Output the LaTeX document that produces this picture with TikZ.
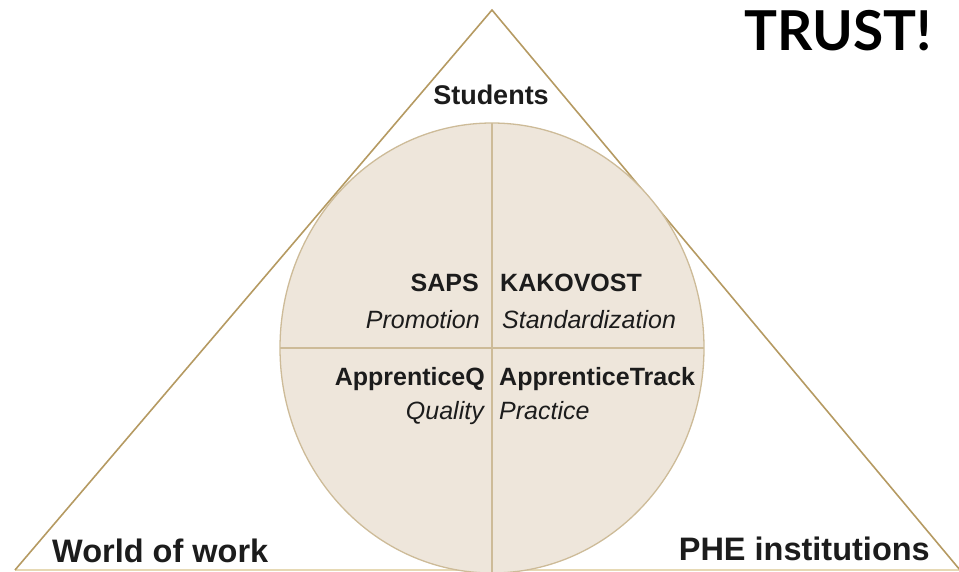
\documentclass[tikz,border=0pt]{standalone}
\usepackage{fontspec}
\setmainfont{Liberation Sans}
\newfontfamily\trustfont{Lato}
\usetikzlibrary{calc}

\definecolor{edgegold}{HTML}{B59A62}
\definecolor{basegold}{HTML}{E6D9B4}
\definecolor{discfill}{HTML}{EEE6DB}
\definecolor{discline}{HTML}{CDBB98}
\definecolor{ink}{HTML}{1C1C1C}

\begin{document}
\begin{tikzpicture}[x=1pt, y=-1pt,
    every node/.style={text=ink, inner sep=0pt},
    project/.style={font=\fontsize{25}{30}\selectfont\bfseries},
    role/.style={font=\fontsize{25}{30}\selectfont\itshape},
    corner/.style={font=\fontsize{32.5}{38}\selectfont\bfseries}]
    \useasboundingbox (0,0) rectangle (959,572);

    \coordinate (T) at (492,10);
    \coordinate (L) at (15,570);
    \coordinate (R) at (960,570);
    \coordinate (O) at (492,348);

    % triangle, then the disc with its cross on top
    \draw[basegold, line width=1.6pt] (L) -- (R);
    \draw[edgegold, line width=1.6pt] (L) -- (T) -- (R);
    \draw[discline, fill=discfill, line width=1.3pt] (O) ellipse [x radius=212, y radius=225];
    \draw[discline, line width=1.8pt] ($(O)+(0,-225)$) -- ($(O)+(0,225)$);
    \draw[discline, line width=1.8pt] ($(O)+(-212,0)$) -- ($(O)+(212,0)$);

    \node[anchor=base east, text=black, font=\fontsize{55}{60}\selectfont\trustfont\bfseries] (trust) at (932,51) {TRUST!};

    \node[anchor=base, font=\fontsize{27}{32}\selectfont\bfseries] (stud) at (491,105) {Students};
    \node[corner, anchor=base west] (wow) at (52,562) {World of work};
    \node[corner, anchor=base east] (phe) at (930,560) {PHE institutions};

    \node[project, anchor=base east] (saps) at (479,291) {SAPS};
    \node[role, anchor=base east] (promo) at (480,328) {Promotion};
    \node[project, anchor=base west] (kak) at (500,291) {KAKOVOST};
    \node[role, anchor=base west] (stand) at (502,328) {Standardization};

    \node[project, anchor=base east] (appq) at (485,385) {ApprenticeQ};
    \node[role, anchor=base east] (qual) at (484,419) {Quality};
    \node[project, anchor=base west] (appt) at (499,385) {ApprenticeTrack};
    \node[role, anchor=base west] (prac) at (499,419) {Practice};
\end{tikzpicture}
\end{document}
